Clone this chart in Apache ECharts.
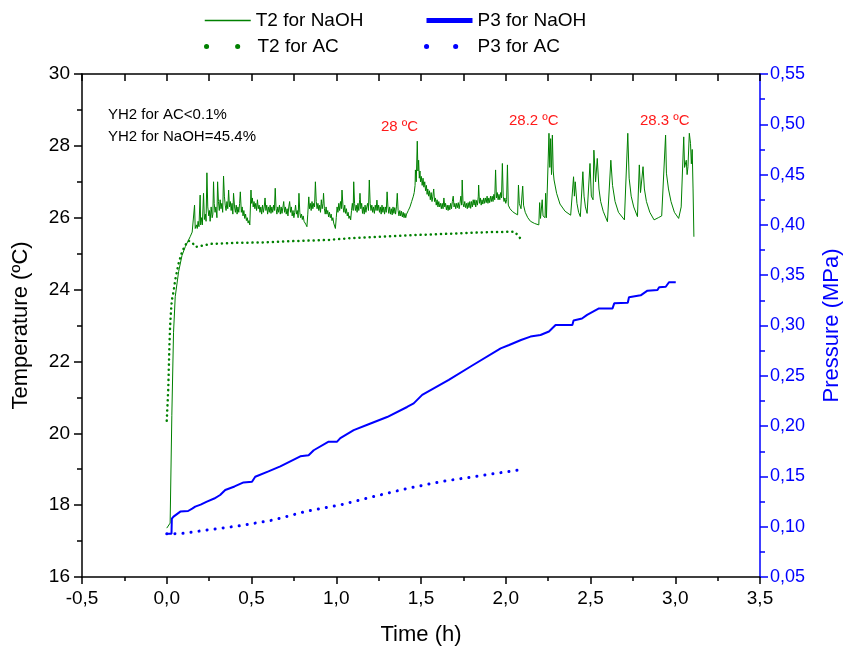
<!DOCTYPE html>
<html>
<head>
<meta charset="utf-8">
<script src="https://cdn.jsdelivr.net/npm/echarts@6/dist/echarts.min.js"></script>
<style>
html,body{margin:0;padding:0;background:#fff;}
#chart{width:844px;height:652px;}
</style>
</head>
<body>
<div id="chart"></div>
<script>
// ---- tick values ----
const xTicks = [-0.5, 0, 0.5, 1, 1.5, 2, 2.5, 3, 3.5];
const tempTicks = [16, 18, 20, 22, 24, 26, 28, 30];
const pressTicks = [0.05, 0.10, 0.15, 0.20, 0.25, 0.30, 0.35, 0.40, 0.45, 0.50, 0.55];

// ---- series data [time (h), value] ----
const t2NaOH = [
[0,17.36],[0.01,17.36],[0.02,17.5],[0.03,20.5],[0.04,22.8],[0.05,23.8],[0.07,24.5],[0.09,24.95],[0.11,25.2],
[0.138,25.47],[0.15,25.6],[0.158,25.65],[0.164,26.35],[0.168,25.7],[0.175,25.8],[0.18,25.7],[0.185,25.9],[0.19,25.75],
[0.197,26.63],[0.2,25.8],[0.205,26.0],[0.21,25.8],[0.217,26.68],[0.222,25.95],[0.228,26.1],[0.232,25.9],[0.237,27.25],
[0.242,26.3],[0.248,26.05],[0.252,26.2],[0.256,25.9],[0.262,26.3],[0.268,26.0],[0.272,26.1],[0.276,27.0],[0.28,26.4],
[0.285,26.15],[0.29,26.3],[0.296,26.0],[0.3,27.0],[0.305,26.45],[0.31,26.2],[0.315,26.5],[0.32,26.25],[0.325,26.4],
[0.33,26.15],[0.335,27.16],[0.34,26.6],[0.345,26.35],[0.35,26.2],[0.355,26.45],[0.36,26.25],[0.365,26.77],[0.37,26.3],
[0.375,26.45],[0.38,26.2],[0.385,26.4],[0.39,26.1],[0.394,26.68],[0.4,26.3],[0.405,26.15],[0.41,26.35],[0.415,26.1],
[0.42,26.3],[0.425,26.15],[0.43,26.4],[0.434,26.72],[0.44,26.15],[0.445,26.3],[0.45,26.05],[0.455,26.2],[0.46,25.98],
[0.465,26.1],[0.47,25.92],[0.475,26.0],[0.48,25.85],[0.485,25.92],[0.49,25.8],[0.497,26.77],[0.5,26.4],[0.505,26.55],
[0.51,26.3],[0.515,26.45],[0.52,26.25],[0.525,26.4],[0.53,26.2],[0.535,26.5],[0.54,26.25],[0.545,26.35],[0.55,26.15],
[0.555,26.3],[0.56,26.1],[0.565,26.35],[0.57,26.15],[0.575,26.3],[0.58,26.55],[0.585,26.2],[0.59,26.35],[0.595,26.1],
[0.6,26.3],[0.605,26.15],[0.61,26.35],[0.615,26.12],[0.62,26.3],[0.625,26.15],[0.63,26.35],[0.635,26.2],[0.64,26.82],
[0.645,26.25],[0.65,26.1],[0.655,26.3],[0.66,26.15],[0.665,26.35],[0.67,26.1],[0.675,26.3],[0.68,26.12],[0.685,26.28],
[0.69,26.45],[0.695,26.15],[0.7,26.3],[0.705,26.1],[0.71,26.25],[0.715,26.05],[0.72,26.3],[0.725,26.45],[0.73,26.15],
[0.735,26.3],[0.74,26.05],[0.745,26.2],[0.75,26.0],[0.755,26.15],[0.76,26.35],[0.765,26.1],[0.77,26.2],[0.775,26.0],
[0.78,26.68],[0.785,26.15],[0.79,26.0],[0.795,26.1],[0.8,25.95],[0.805,26.05],[0.81,25.9],[0.815,25.95],[0.82,25.82],
[0.827,25.75],[0.832,26.1],[0.838,26.58],[0.842,26.25],[0.847,26.4],[0.852,26.2],[0.857,26.45],[0.862,26.25],[0.867,26.4],
[0.872,26.3],[0.877,27.0],[0.882,26.45],[0.887,26.25],[0.892,26.4],[0.897,26.2],[0.902,26.35],[0.907,26.15],[0.912,26.5],
[0.917,26.25],[0.922,26.4],[0.925,26.68],[0.93,26.25],[0.935,26.1],[0.94,26.3],[0.945,26.1],[0.95,26.2],[0.955,26.02],
[0.96,26.15],[0.965,26.0],[0.97,26.1],[0.975,25.92],[0.98,26.0],[0.985,25.85],[0.99,25.8],[0.995,25.7],[1.0,26.0],
[1.005,26.3],[1.01,26.15],[1.015,26.4],[1.02,26.2],[1.025,26.45],[1.03,26.25],[1.034,26.77],[1.04,26.3],[1.045,26.15],
[1.05,26.35],[1.055,26.12],[1.06,26.25],[1.065,26.05],[1.07,26.15],[1.075,25.98],[1.08,26.05],[1.085,25.94],[1.09,26.2],
[1.095,26.4],[1.1,26.2],[1.103,27.0],[1.108,26.4],[1.113,26.2],[1.118,26.35],[1.123,26.15],[1.128,26.4],[1.133,26.2],
[1.138,26.5],[1.14,26.68],[1.145,26.25],[1.15,26.4],[1.155,26.12],[1.16,26.3],[1.165,26.1],[1.17,26.35],[1.175,26.15],
[1.18,26.3],[1.185,26.4],[1.19,26.2],[1.195,27.05],[1.2,26.4],[1.205,26.2],[1.21,26.35],[1.215,26.15],[1.22,26.3],
[1.225,26.12],[1.23,26.35],[1.235,26.2],[1.24,26.49],[1.245,26.2],[1.25,26.35],[1.255,26.15],[1.26,26.3],[1.265,26.1],
[1.27,26.35],[1.275,26.15],[1.28,26.3],[1.285,26.1],[1.29,26.3],[1.295,26.15],[1.3,26.72],[1.305,26.3],[1.31,26.12],
[1.315,26.3],[1.32,26.1],[1.325,26.25],[1.33,26.08],[1.335,26.3],[1.34,26.12],[1.345,26.28],[1.35,26.1],[1.355,26.3],
[1.36,26.68],[1.365,26.2],[1.37,26.05],[1.375,26.2],[1.38,26.05],[1.385,26.18],[1.39,26.02],[1.395,26.15],[1.4,26.0],
[1.405,26.12],[1.41,26.0],[1.415,26.1],[1.42,26.07],[1.425,26.2],[1.43,26.15],[1.435,26.3],[1.44,26.25],[1.445,26.45],
[1.45,26.4],[1.455,26.6],[1.46,26.7],[1.465,26.9],[1.467,27.33],[1.472,27.0],[1.478,28.13],[1.482,27.3],[1.486,27.6],
[1.49,27.1],[1.494,27.3],[1.497,27.0],[1.502,27.15],[1.507,26.9],[1.512,27.1],[1.517,26.85],[1.522,27.0],[1.527,26.75],
[1.532,26.9],[1.536,26.65],[1.54,26.8],[1.545,26.6],[1.55,26.75],[1.555,26.5],[1.56,26.7],[1.565,26.45],[1.57,26.6],
[1.575,26.8],[1.58,26.45],[1.585,26.55],[1.59,26.35],[1.595,26.5],[1.6,26.3],[1.605,26.45],[1.61,26.3],[1.615,26.4],
[1.62,26.25],[1.625,26.4],[1.63,26.25],[1.635,26.55],[1.64,26.3],[1.645,26.4],[1.65,26.22],[1.655,26.35],[1.66,26.2],
[1.665,26.35],[1.67,26.22],[1.675,26.4],[1.68,26.25],[1.685,26.45],[1.69,26.6],[1.695,26.3],[1.7,26.4],[1.705,26.25],
[1.71,26.4],[1.715,26.28],[1.72,26.42],[1.725,26.25],[1.73,26.4],[1.735,26.6],[1.74,26.35],[1.743,27.05],[1.748,26.4],
[1.753,26.3],[1.758,26.45],[1.763,26.28],[1.768,26.4],[1.773,26.25],[1.778,26.42],[1.783,26.28],[1.788,26.45],
[1.793,26.26],[1.798,26.45],[1.803,26.3],[1.808,26.5],[1.813,26.35],[1.818,26.5],[1.823,26.3],[1.828,26.48],[1.833,26.35],
[1.838,26.6],[1.84,26.91],[1.845,26.4],[1.85,26.55],[1.855,26.35],[1.86,26.5],[1.865,26.38],[1.87,26.55],[1.875,26.4],
[1.88,26.55],[1.885,26.42],[1.89,26.6],[1.895,26.4],[1.9,26.55],[1.905,26.42],[1.91,26.6],[1.915,26.45],[1.92,26.6],
[1.925,26.45],[1.93,26.65],[1.935,26.5],[1.94,27.33],[1.945,26.55],[1.95,26.7],[1.955,26.5],[1.96,26.65],[1.965,26.5],
[1.97,26.7],[1.975,26.55],[1.98,27.51],[1.985,26.6],[1.99,26.45],[1.995,26.55],[2.0,26.4],[2.005,26.5],[2.01,27.47],
[2.015,26.35],[2.025,26.25],[2.04,26.17],[2.055,26.12],[2.07,26.08],[2.075,26.91],[2.08,26.4],[2.09,26.25],[2.1,26.88],
[2.105,26.35],[2.115,26.15],[2.13,26.0],[2.146,25.9],[2.17,25.84],[2.195,25.8],[2.2,26.42],[2.205,25.98],[2.212,26.0],
[2.215,26.5],[2.22,26.05],[2.232,26.0],[2.235,26.68],[2.24,26.0],[2.25,25.95],[2.255,28.35],[2.26,27.4],[2.265,28.2],
[2.27,27.2],[2.275,28.3],[2.28,27.3],[2.285,27.05],[2.3,26.68],[2.32,26.38],[2.35,26.18],[2.383,26.07],[2.4,27.14],
[2.405,26.6],[2.41,27.0],[2.42,26.4],[2.43,26.15],[2.44,26.03],[2.455,27.28],[2.462,26.6],[2.47,26.3],[2.48,26.12],
[2.497,27.51],[2.505,26.6],[2.515,26.5],[2.52,27.88],[2.53,27.0],[2.54,27.65],[2.55,26.8],[2.56,26.45],[2.575,26.18],
[2.6,25.89],[2.62,27.6],[2.63,26.9],[2.645,26.45],[2.665,26.15],[2.7,25.94],[2.72,28.35],[2.728,27.1],[2.74,26.6],
[2.755,26.3],[2.777,26.03],[2.788,27.47],[2.795,26.7],[2.81,27.42],[2.818,26.8],[2.83,26.45],[2.85,26.15],[2.875,25.94],
[2.9,26.0],[2.92,26.05],[2.943,28.3],[2.948,27.24],[2.96,26.8],[2.975,26.45],[2.995,26.15],[3.02,25.98],[3.035,26.3],
[3.05,28.25],[3.055,27.4],[3.065,27.6],[3.07,27.2],[3.075,27.42],[3.083,28.35],[3.09,28.07],[3.095,27.5],[3.1,27.9],
[3.105,26.8],[3.11,25.47]
];

const t2AC = [
[0,20.35],[0.003,20.65],[0.006,20.95],[0.009,21.25],[0.012,21.8],[0.016,22.5],[0.02,23.0],[0.025,23.4],[0.03,23.7],
[0.04,23.94],[0.05,24.27],[0.07,24.73],[0.09,25.05],[0.11,25.24],[0.128,25.36],[0.14,25.33],[0.155,25.28],[0.168,25.19],
[0.175,25.14],[0.19,25.2],[0.256,25.27],[0.4,25.3],[0.55,25.31],[0.75,25.35],[0.95,25.38],[1.08,25.43],[1.3,25.48],
[1.48,25.52],[1.7,25.56],[1.9,25.6],[2.05,25.61],[2.07,25.52],[2.09,25.4]
];

const p3NaOH = [
[0,0.093],[0.028,0.093],[0.03,0.108],[0.04,0.11],[0.08,0.115],[0.126,0.1156],[0.15,0.118],[0.168,0.12],[0.2,0.122],
[0.237,0.125],[0.28,0.128],[0.315,0.1315],[0.345,0.1365],[0.4,0.14],[0.453,0.144],[0.503,0.1447],[0.522,0.1497],
[0.6,0.155],[0.67,0.16],[0.788,0.17],[0.837,0.171],[0.867,0.176],[0.955,0.1845],[1.005,0.1845],[1.024,0.188],
[1.103,0.196],[1.191,0.2018],[1.3,0.209],[1.418,0.219],[1.457,0.2226],[1.507,0.231],[1.664,0.246],[1.8,0.26],
[1.97,0.2773],[2.02,0.2806],[2.09,0.2856],[2.146,0.289],[2.205,0.2906],[2.255,0.294],[2.294,0.3005],[2.393,0.3005],
[2.40,0.305],[2.45,0.307],[2.48,0.3106],[2.55,0.317],[2.63,0.317],[2.64,0.322],[2.72,0.3227],[2.727,0.328],
[2.796,0.330],[2.836,0.3346],[2.895,0.3353],[2.905,0.338],[2.944,0.3385],[2.963,0.343],[3.003,0.343]
];

const p3AC = [
[0,0.093],[0.04,0.093],[0.097,0.0934],[0.237,0.0967],[0.434,0.101],[0.63,0.1067],[0.83,0.1156],[1.024,0.1216],
[1.22,0.13],[1.418,0.138],[1.615,0.1447],[1.81,0.1497],[2.077,0.1564]
];

const seriesNames = ['T2 for NaOH', 'P3 for NaOH', 'T2 for AC', 'P3 for AC'];
const notes = ['YH2 for AC<0.1%', 'YH2 for NaOH=45.4%'];
const peakLabels = ['28 ºC', '28.2 ºC', '28.3 ºC'];

const GREEN = '#008000';
const BLUE = '#0000ff';
const FONT = "'Liberation Sans',Arial,sans-serif";

const comma = (d) => (v) => v.toFixed(d).replace('.', ',');

const chart = echarts.init(document.getElementById('chart'), null, {renderer: 'canvas'});

function legendItem(name, left, top, ls) {
  return {
    data: [name], left: left, top: top, itemWidth: 46, itemHeight: 14, itemGap: 4,
    selectedMode: false,
    textStyle: {fontFamily: FONT, fontSize: 19, color: '#000'},
    lineStyle: ls, itemStyle: {opacity: 0}
  };
}

const option = {
  animation: false,
  backgroundColor: '#fff',
  grid: {left: 82, right: 84, top: 74, bottom: 75, containLabel: false, outerBoundsMode: 'none'},
  legend: [
    legendItem(seriesNames[0], 199, 6, {width: 1.5}),
    legendItem(seriesNames[1], 419, 6, {width: 5}),
    legendItem(seriesNames[2], 199, 32, {width: 5, type: [0.1, 31], cap: 'round'}),
    legendItem(seriesNames[3], 419, 32, {width: 5, type: [0.1, 29], cap: 'round'})
  ],
  xAxis: [{
    type: 'value', min: xTicks[0], max: xTicks[xTicks.length - 1], interval: 0.5,
    name: 'Time (h)', nameLocation: 'middle', nameGap: 47,
    nameTextStyle: {fontFamily: FONT, fontSize: 22, color: '#000'},
    axisLine: {onZero: false, lineStyle: {color: '#000', width: 1.5}},
    axisTick: {show: true, inside: false, length: 7, lineStyle: {color: '#000', width: 1.5}},
    minorTick: {show: true, splitNumber: 2, length: 4, lineStyle: {color: '#000', width: 1.5}},
    axisLabel: {formatter: comma(1), fontFamily: FONT, fontSize: 19, color: '#000', margin: 12},
    splitLine: {show: false}
  }, {
    type: 'value', position: 'top', min: xTicks[0], max: xTicks[xTicks.length - 1], interval: 0.5,
    axisLine: {show: true, onZero: false, lineStyle: {color: '#000', width: 1.5}},
    axisTick: {show: true, inside: true, length: 7, lineStyle: {color: '#000', width: 1.5}},
    minorTick: {show: true, splitNumber: 2, length: 7, lineStyle: {color: '#000', width: 1.5}},
    axisLabel: {show: false}, splitLine: {show: false}
  }],
  yAxis: [{
    type: 'value', min: tempTicks[0], max: tempTicks[tempTicks.length - 1], interval: 2,
    name: 'Temperature (ºC)', nameLocation: 'middle', nameGap: 50,
    nameTextStyle: {fontFamily: FONT, fontSize: 22, color: '#000'},
    axisLine: {show: true, onZero: false, lineStyle: {color: '#000', width: 1.5}},
    axisTick: {show: true, inside: false, length: 8, lineStyle: {color: '#000', width: 1.5}},
    minorTick: {show: true, splitNumber: 2, length: 5, lineStyle: {color: '#000', width: 1.5}},
    axisLabel: {fontFamily: FONT, fontSize: 19, color: '#000', margin: 12},
    splitLine: {show: false}
  }, {
    type: 'value', position: 'right', min: pressTicks[0], max: pressTicks[pressTicks.length - 1], interval: 0.05,
    name: 'Pressure (MPa)', nameLocation: 'middle', nameGap: 61, nameRotate: 90,
    nameTextStyle: {fontFamily: FONT, fontSize: 22, color: BLUE},
    axisLine: {show: true, onZero: false, lineStyle: {color: BLUE, width: 1.5}},
    axisTick: {show: true, inside: false, length: 8, lineStyle: {color: BLUE, width: 1.5}},
    minorTick: {show: true, splitNumber: 2, length: 5, lineStyle: {color: BLUE, width: 1.5}},
    axisLabel: {formatter: comma(2), fontFamily: FONT, fontSize: 18, color: BLUE, margin: 10},
    splitLine: {show: false}
  }],
  graphic: [
    {type: 'text', left: 108, top: 107, style: {text: notes[0], font: "15px 'Liberation Sans', Arial", fill: '#000'}},
    {type: 'text', left: 108, top: 129, style: {text: notes[1], font: "15px 'Liberation Sans', Arial", fill: '#000'}},
    {type: 'text', left: 381, top: 119, style: {text: peakLabels[0], font: "15px 'Liberation Sans', Arial", fill: '#ff1a1a'}},
    {type: 'text', left: 509, top: 113, style: {text: peakLabels[1], font: "15px 'Liberation Sans', Arial", fill: '#ff1a1a'}},
    {type: 'text', left: 640, top: 113, style: {text: peakLabels[2], font: "15px 'Liberation Sans', Arial", fill: '#ff1a1a'}}
  ],
  series: [
    {name: seriesNames[0], type: 'line', xAxisIndex: 0, yAxisIndex: 0, data: t2NaOH, showSymbol: false, symbol: 'none',
     lineStyle: {color: GREEN, width: 1}, itemStyle: {color: GREEN}, z: 3},
    {name: seriesNames[1], type: 'line', xAxisIndex: 0, yAxisIndex: 1, data: p3NaOH, showSymbol: false, symbol: 'none',
     lineStyle: {color: BLUE, width: 2}, itemStyle: {color: BLUE}, z: 4},
    {name: seriesNames[2], type: 'line', xAxisIndex: 0, yAxisIndex: 0, data: t2AC, showSymbol: false, symbol: 'none',
     lineStyle: {color: GREEN, width: 2.5, type: [0.1, 5], cap: 'round'}, itemStyle: {color: GREEN}, z: 2},
    {name: seriesNames[3], type: 'line', xAxisIndex: 0, yAxisIndex: 1, data: p3AC, showSymbol: false, symbol: 'none',
     lineStyle: {color: BLUE, width: 3, type: [0.1, 8], cap: 'round'}, itemStyle: {color: BLUE}, z: 2}
  ]
};
chart.setOption(option);
</script>
</body>
</html>
